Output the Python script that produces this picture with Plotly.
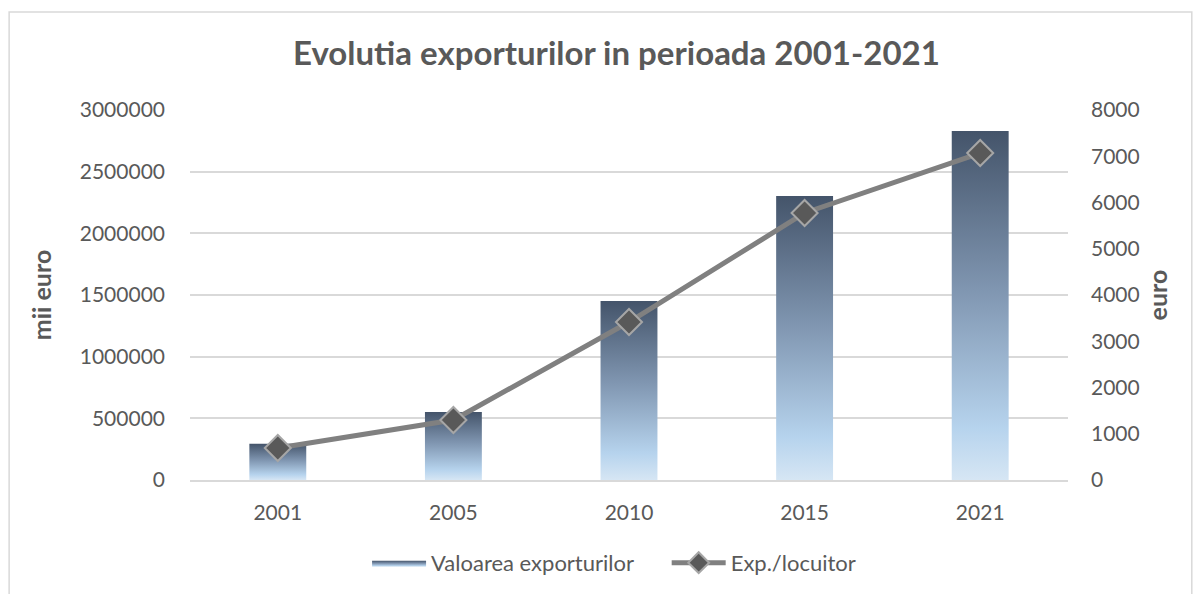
import plotly.graph_objects as go

# data
years = ["2001", "2005", "2010", "2015", "2021"]
export_value = [293000, 551000, 1451000, 2303000, 2830000]   # mii euro
export_per_capita = [692, 1297, 3416, 5773, 7070]             # euro

TXT = "#595959"
GRID = "#d9d9d9"
FONT = "Lato, 'Open Sans', sans-serif"
half_w = 0.162

fig = go.Figure()

# bars with vertical gradient (one filled polygon per bar so each has its own gradient)
for i, (yr, v) in enumerate(zip(years, export_value)):
    fig.add_trace(go.Scatter(
        x=[i - half_w, i - half_w, i + half_w, i + half_w, i - half_w],
        y=[0, v, v, 0, 0],
        mode="lines",
        line=dict(width=0),
        fill="toself",
        fillgradient=dict(
            type="vertical",
            colorscale=[[0, "#d6e6f4"], [0.15, "#b6d3ed"], [0.55, "#7f95b0"], [1, "#44546a"]],
        ),
        name="Valoarea exporturilor\u00a0\u00a0\u00a0\u00a0\u00a0",
        legendgroup="val",
        showlegend=(i == 0),
        hoverinfo="text",
        text=f"{yr}: {v}",
        yaxis="y",
    ))

fig.add_trace(go.Scatter(
    x=list(range(len(years))),
    y=export_per_capita,
    mode="lines+markers",
    name="Exp./locuitor",
    line=dict(color="#808080", width=5),
    marker=dict(symbol="diamond", size=20, color="#595959",
                line=dict(color="#a6a6a6", width=2)),
    yaxis="y2",
))

fig.update_layout(
    width=1193, height=586,
    paper_bgcolor="white", plot_bgcolor="white",
    font=dict(family=FONT, size=21, color=TXT),
    margin=dict(l=182, r=133, t=102, b=114, autoexpand=False),
    title=dict(text="<b>Evolutia exporturilor in perioada 2001-2021</b>",
               x=0.51, xanchor="center", y=0.923, yanchor="middle",
               font=dict(size=33, color=TXT, family=FONT)),
    xaxis=dict(
        range=[-0.5, len(years) - 0.5],
        tickmode="array", tickvals=list(range(len(years))), ticktext=years,
        showgrid=False, zeroline=False,
        showline=True, linecolor=GRID, linewidth=2,
        ticks="", ticklabelstandoff=13,
        tickfont=dict(size=21, color=TXT),
    ),
    yaxis=dict(
        range=[0, 3000000], dtick=500000, tickformat="d",
        gridcolor=GRID, gridwidth=1.5, zeroline=False,
        ticks="", ticklabelstandoff=24,
        tickfont=dict(size=21, color=TXT),
        title=dict(text="<b>mii euro</b>", font=dict(size=25, color=TXT), standoff=20),
    ),
    yaxis2=dict(
        range=[0, 8000], dtick=1000, tickformat="d",
        overlaying="y", side="right",
        showgrid=False, zeroline=False,
        ticks="", ticklabelstandoff=22,
        tickfont=dict(size=21, color=TXT),
        title=dict(text="<b>euro</b>", font=dict(size=25, color=TXT), standoff=10),
    ),
    legend=dict(orientation="h", x=0.483, xanchor="center", y=-0.224, yanchor="middle",
                font=dict(size=22, color=TXT), itemwidth=54,
                bgcolor="rgba(0,0,0,0)"),
    shapes=[dict(type="rect", xref="paper", yref="paper",
                 x0=-0.206, x1=1.141, y0=-0.34, y1=1.265,
                 line=dict(color=GRID, width=1.5), layer="below")],
)

fig.write_html("out.html")
